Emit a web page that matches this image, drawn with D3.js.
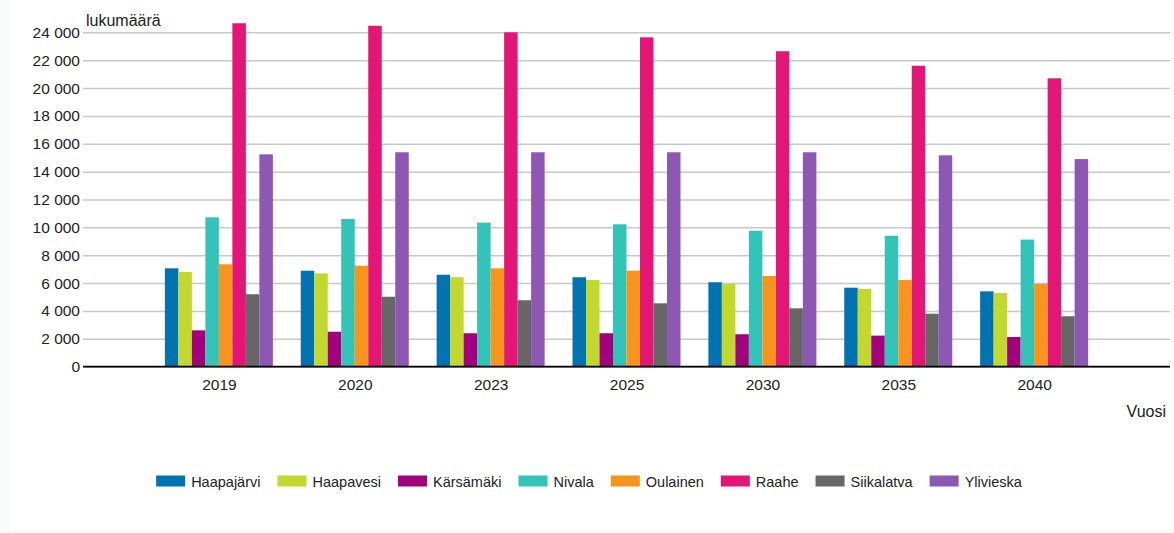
<!DOCTYPE html>
<html>
<head>
<meta charset="utf-8">
<script src="https://cdn.jsdelivr.net/npm/d3@7"></script>
<style>
  body { margin: 0; background: #f9fbfb; }
  svg { display: block; font-family: "Liberation Sans", Arial, sans-serif; }
</style>
</head>
<body>
<svg id="chart" width="1174" height="533"></svg>
<script>
// vuodet ja kunnat
var years = ["2019", "2020", "2023", "2025", "2030", "2035", "2040"];
var towns = ["Haapajärvi", "Haapavesi", "Kärsämäki", "Nivala", "Oulainen", "Raahe", "Siikalatva", "Ylivieska"];
var colors = ["#0073b0", "#c3d82e", "#a3007d", "#34c3b9", "#f7941e", "#e31675", "#666666", "#8d57b3"];

var haapajarvi = [7060, 6890, 6600, 6420, 6060, 5670, 5410];
var haapavesi  = [6800, 6700, 6420, 6220, 5940, 5580, 5290];
var karsamaki  = [2610, 2510, 2400, 2400, 2330, 2230, 2130];
var nivala     = [10720, 10600, 10340, 10220, 9760, 9400, 9120];
var oulainen   = [7350, 7250, 7060, 6890, 6510, 6220, 5940];
var raahe      = [24650, 24470, 24000, 23640, 22640, 21600, 20700];
var siikalatva = [5200, 5020, 4770, 4550, 4190, 3800, 3620];
var ylivieska  = [15240, 15390, 15390, 15390, 15390, 15170, 14900];

var yTicks = [0, 2000, 4000, 6000, 8000, 10000, 12000, 14000, 16000, 18000, 20000, 22000, 24000];

var series = [haapajarvi, haapavesi, karsamaki, nivala, oulainen, raahe, siikalatva, ylivieska];

var svg = d3.select("#chart");
var plotLeft = 83, plotRight = 1170, plotTop = 32.3, plotBottom = 366.7;

svg.append("rect")
   .attr("x", 10).attr("y", 0)
   .attr("width", 1164).attr("height", 530)
   .attr("fill", "#fff");

var xScale = d3.scalePoint().domain(years).range([plotLeft, plotRight]).padding(1);
var xInner = d3.scaleBand().domain(towns).range([-54, 54]);
var yScale = d3.scaleLinear().domain([0, 24000]).range([plotBottom, plotTop]);

var fmt = function(d) { return d3.format(",")(d).replace(/,/g, " "); };

// ruudukko
var yAxis = svg.append("g")
   .attr("transform", "translate(" + plotLeft + ",0)")
   .call(d3.axisLeft(yScale).tickValues(yTicks).tickFormat(fmt)
         .tickSize(-(plotRight - plotLeft)).tickPadding(3));
yAxis.select(".domain").remove();
yAxis.selectAll(".tick line")
     .attr("stroke", "#c8c8c8")
     .attr("stroke-width", 1.5);
yAxis.selectAll(".tick text")
     .attr("font-size", "15.5px")
     .attr("fill", "#222")
     .attr("font-family", "Liberation Sans, Arial, sans-serif");

// pylväät
var rows = years.map(function(y, i) {
  return { year: y, values: towns.map(function(t, j) { return { town: t, value: series[j][i], color: colors[j] }; }) };
});

var groups = svg.selectAll(".grp")
   .data(rows)
   .enter().append("g")
   .attr("class", "grp")
   .attr("transform", function(d) { return "translate(" + xScale(d.year) + ",0)"; });

groups.selectAll("rect")
   .data(function(d) { return d.values; })
   .enter().append("rect")
   .attr("x", function(d) { return xInner(d.town); })
   .attr("y", function(d) { return yScale(d.value); })
   .attr("width", xInner.bandwidth())
   .attr("height", function(d) { return plotBottom - yScale(d.value); })
   .attr("fill", function(d) { return d.color; });

// x-akseli
var xAxis = svg.append("g")
   .attr("transform", "translate(0," + plotBottom + ")")
   .call(d3.axisBottom(xScale).tickSize(0).tickPadding(12));
xAxis.select(".domain").attr("stroke", "#000").attr("stroke-width", 1.8)
     .attr("d", "M" + plotLeft + ",0H" + plotRight);
xAxis.selectAll(".tick text")
     .attr("font-size", "15.5px")
     .attr("fill", "#222")
     .attr("font-family", "Liberation Sans, Arial, sans-serif");

svg.append("text")
   .attr("x", 86).attr("y", 26)
   .attr("font-size", "16px")
   .attr("fill", "#222")
   .text("lukumäärä");

svg.append("text")
   .attr("x", 1166).attr("y", 417)
   .attr("text-anchor", "end")
   .attr("font-size", "16px")
   .attr("fill", "#222")
   .text("Vuosi");

// selite
var legend = svg.append("g");
var items = legend.selectAll(".item")
   .data(towns)
   .enter().append("g")
   .attr("class", "item");
items.append("rect")
   .attr("width", 29).attr("height", 11)
   .attr("y", 475.5)
   .attr("fill", function(d, i) { return colors[i]; });
items.append("text")
   .attr("x", 35).attr("y", 486.5)
   .attr("font-size", "14.5px")
   .attr("fill", "#222")
   .text(function(d) { return d; });

var pos = 0;
items.each(function() {
  var w = d3.select(this).select("text").node().getComputedTextLength();
  d3.select(this).attr("transform", "translate(" + pos + ",0)");
  pos += 35 + w + 17;
});
pos -= 17;
legend.attr("transform", "translate(" + (589 - pos / 2) + ",0)");
</script>
</body>
</html>
